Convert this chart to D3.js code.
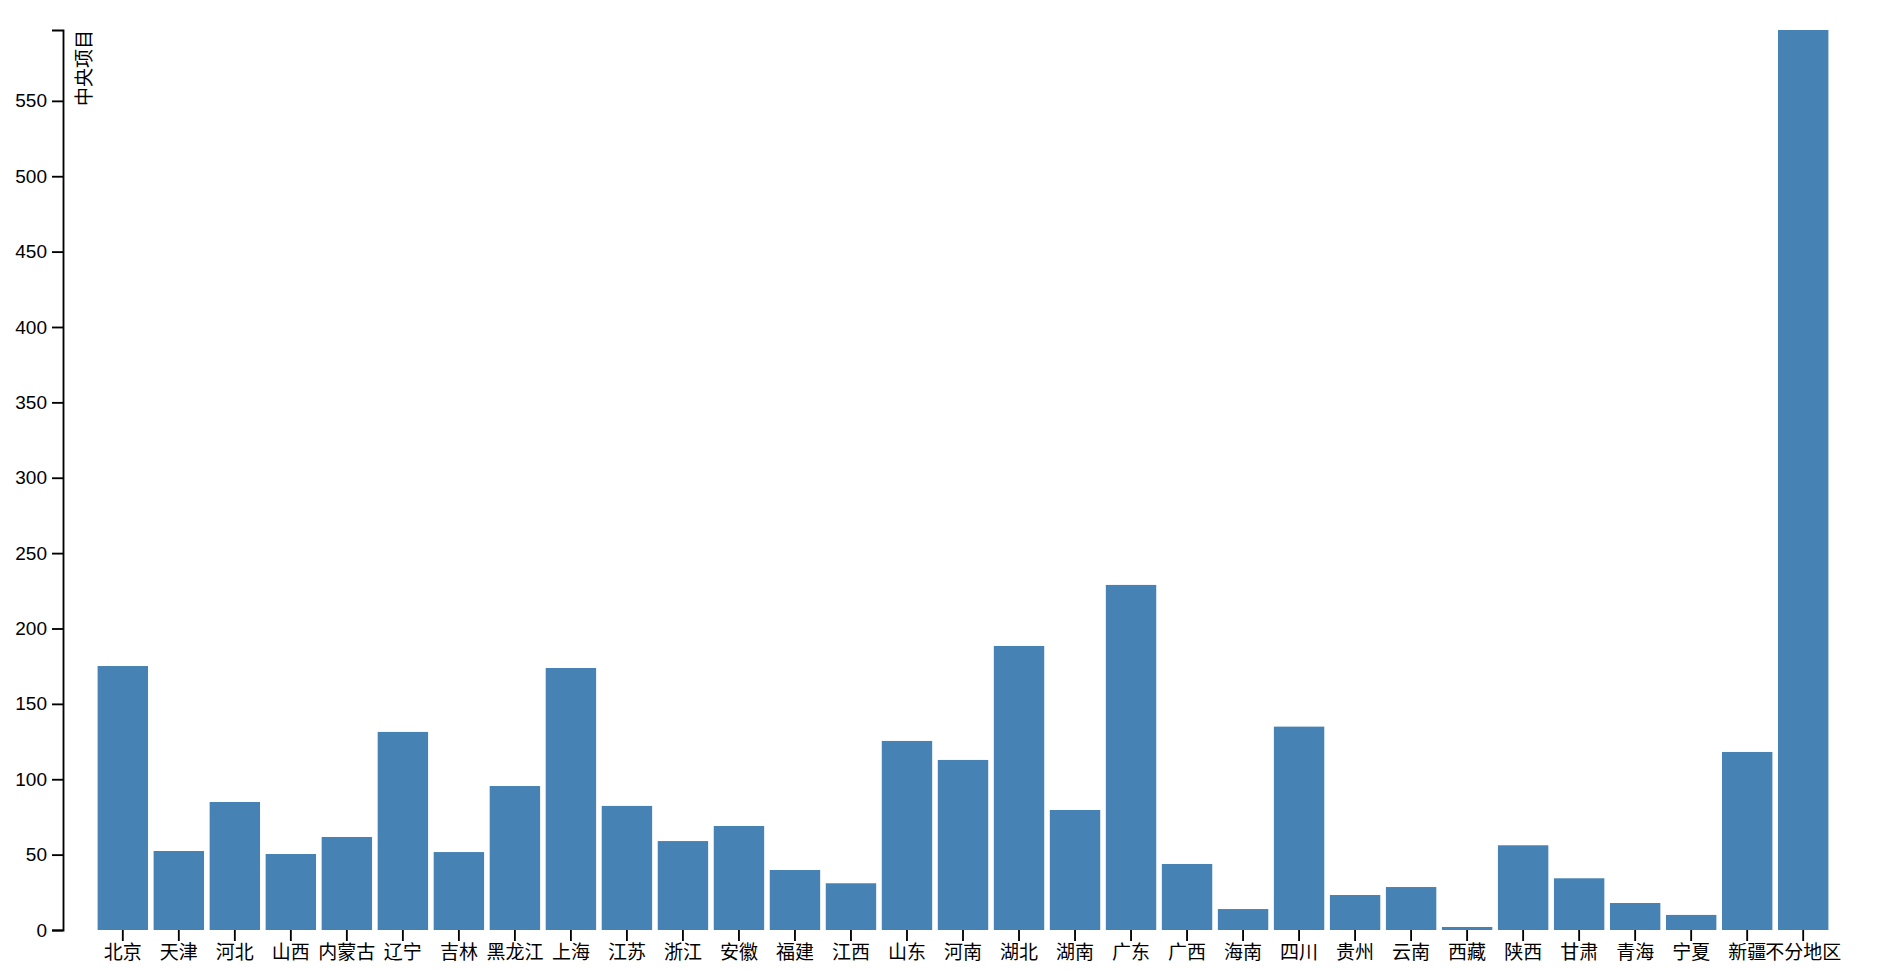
<!DOCTYPE html>
<html>
<head>
<meta charset="utf-8">
<script src="https://cdn.jsdelivr.net/npm/d3@7"></script>
<style>
  body { margin: 0; background: #fff; }
  svg { display: block; font-family: "Liberation Sans", Arial, "Noto Sans CJK SC", sans-serif; }
  .bar { fill: steelblue; }
  .axis text { font-size: 19px; fill: #000; }
  .axis path, .axis line { stroke: #000; stroke-width: 1.85px; }
  .axisText { font-size: 19px; }
</style>
</head>
<body>
<div class="chart"></div>
<script>
var regions = ["北京", "天津", "河北", "山西", "内蒙古", "辽宁", "吉林", "黑龙江", "上海", "江苏",
  "浙江", "安徽", "福建", "江西", "山东", "河南", "湖北", "湖南", "广东", "广西",
  "海南", "四川", "贵州", "云南", "西藏", "陕西", "甘肃", "青海", "宁夏", "新疆", "不分地区"];

var projects = [175.1, 52.4, 84.9, 50.4, 61.7, 131.4, 51.7, 95.5, 173.8, 82.3,
  59.0, 69.0, 39.8, 31.0, 125.4, 112.8, 188.4, 79.6, 228.9, 43.8,
  13.9, 134.9, 23.2, 28.5, 2.0, 56.2, 34.3, 17.9, 10.0, 118.1, 597];

var yLabel = "中央项目";

var svgWidth = 1882;
var svgHeight = 970;

var axisLeftX = 63;
var plotTop = 30;
var plotBottom = 930;

var svg = d3.select(".chart")
  .append("svg")
    .attr("width", svgWidth)
    .attr("height", svgHeight);

var xScale = d3.scaleBand()
  .domain(regions)
  .range([92, 1834])
  .padding(0.1);

var yScale = d3.scaleLinear()
  .domain([0, d3.max(projects)])
  .range([plotBottom, plotTop]);

// bars
svg.selectAll(".bar")
  .data(regions)
  .enter().append("rect")
    .attr("class", "bar")
    .attr("x", function(d) { return xScale(d); })
    .attr("width", xScale.bandwidth())
    .attr("y", function(d, i) { return yScale(projects[i]); })
    .attr("height", function(d, i) { return plotBottom - yScale(projects[i]); });

// x axis, no domain line
var xAxis = svg.append("g")
  .attr("class", "axis")
  .attr("transform", "translate(0," + plotBottom + ")")
  .call(d3.axisBottom(xScale).tickSize(11).tickPadding(5));
xAxis.select(".domain").remove();
xAxis.attr("font-family", null).attr("font-size", null);

// y axis
var yAxis = svg.append("g")
  .attr("class", "axis")
  .attr("transform", "translate(" + axisLeftX + ",0)")
  .call(d3.axisLeft(yScale).tickSize(11).tickPadding(5));
yAxis.attr("font-family", null).attr("font-size", null);
yAxis.select(".domain").attr("fill", "none");

yAxis.append("text")
  .attr("class", "axisText")
  .attr("transform", "rotate(-90)")
  .attr("x", -plotTop)
  .attr("y", 12)
  .attr("dy", "0.85em")
  .attr("text-anchor", "end")
  .attr("fill", "#000")
  .text(yLabel);
</script>
</body>
</html>
